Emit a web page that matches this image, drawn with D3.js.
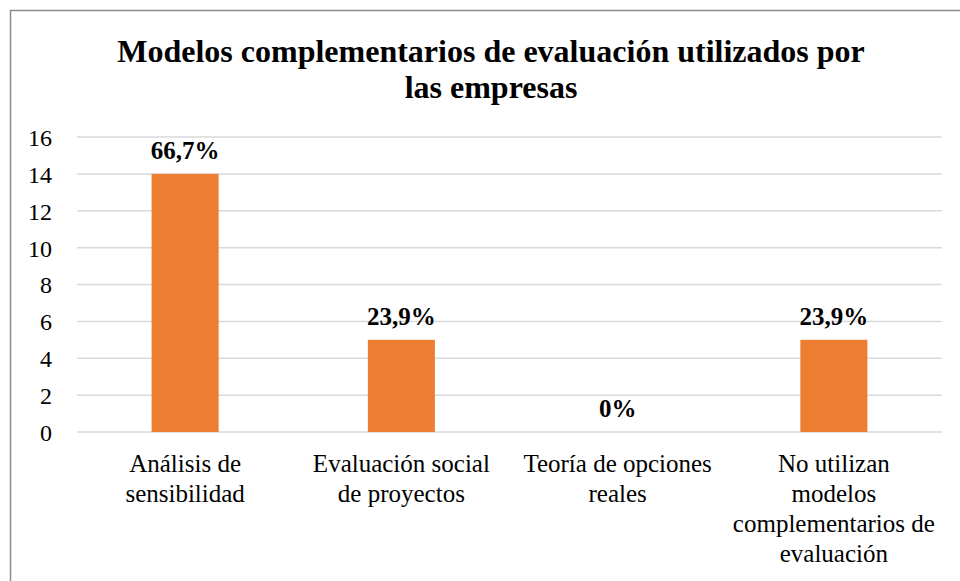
<!DOCTYPE html>
<html>
<head>
<meta charset="utf-8">
<script src="https://cdn.jsdelivr.net/npm/d3@7"></script>
<style>
  body { margin: 0; background: #fff; }
</style>
</head>
<body>
<div id="chart"></div>
<script>
// Chart data
var categories = [
    ["Análisis de", "sensibilidad"],
    ["Evaluación social", "de proyectos"],
    ["Teoría de opciones", "reales"],
    ["No utilizan", "modelos", "complementarios de", "evaluación"]
];
var values = [14, 5, 0, 5];
var labels = ["66,7%", "23,9%", "0%", "23,9%"];
var yTicks = [0, 2, 4, 6, 8, 10, 12, 14, 16];
var titleLines = ["Modelos complementarios de evaluación utilizados por", "las empresas"];

var serif = "'Liberation Serif', Tinos, 'Times New Roman', Times, 'DejaVu Serif', serif";

var width = 960, height = 581;
var margin = { top: 137, left: 77, right: 18, bottom: 149 };

var svg = d3.select("#chart")
    .append("svg")
    .attr("width", width)
    .attr("height", height)
    .attr("font-family", serif);

// Outer border of the chart area
svg.append("rect")
    .attr("x", 10.5)
    .attr("y", 10.5)
    .attr("width", width + 20)
    .attr("height", height + 20)
    .attr("fill", "none")
    .attr("stroke", "#8c8c8c")
    .attr("stroke-width", 1.5);

// Title
svg.append("text")
    .attr("x", 491)
    .attr("y", 62)
    .attr("text-anchor", "middle")
    .attr("font-family", serif)
    .attr("font-size", 32)
    .attr("font-weight", "bold")
    .selectAll("tspan")
    .data(titleLines)
    .enter().append("tspan")
    .attr("x", 491)
    .attr("dy", function(d, i) { return i == 0 ? 0 : 36; })
    .text(function(d) { return d; });

var x = d3.scaleBand()
    .domain(d3.range(categories.length))
    .range([margin.left, width - margin.right])
    .paddingInner(0.69)
    .paddingOuter(0.345);

var y = d3.scaleLinear()
    .domain([0, 16])
    .range([height - margin.bottom, margin.top]);

// Gridlines
svg.append("g")
    .selectAll("line")
    .data(yTicks)
    .enter().append("line")
    .attr("x1", margin.left)
    .attr("x2", width - margin.right)
    .attr("y1", function(d) { return y(d); })
    .attr("y2", function(d) { return y(d); })
    .attr("stroke", "#d9d9d9")
    .attr("stroke-width", 1.5);

// Y axis labels
var yAxis = svg.append("g")
    .attr("transform", "translate(" + (margin.left - 21) + ",0)")
    .call(d3.axisLeft(y).tickValues(yTicks).tickSize(0).tickPadding(4))
    .attr("font-family", serif)
    .attr("font-size", 24);
yAxis.select(".domain").remove();
yAxis.selectAll("text")
    .attr("fill", "#000")
    .attr("dy", "0.35em");

// Bars
svg.selectAll(".bar")
    .data(values)
    .enter().append("rect")
    .attr("class", "bar")
    .attr("x", function(d, i) { return x(i); })
    .attr("width", x.bandwidth())
    .attr("y", function(d) { return y(d); })
    .attr("height", function(d) { return y(0) - y(d); })
    .attr("fill", "#ed7d31");

// Value labels
svg.selectAll(".val")
    .data(values)
    .enter().append("text")
    .attr("class", "val")
    .attr("x", function(d, i) { return x(i) + x.bandwidth() / 2; })
    .attr("y", function(d) { return y(d) - 15; })
    .attr("text-anchor", "middle")
    .attr("font-family", serif)
    .attr("font-size", 25)
    .attr("font-weight", "bold")
    .text(function(d, i) { return labels[i]; });

// Category labels
svg.selectAll(".cat")
    .data(categories)
    .enter().append("text")
    .attr("class", "cat")
    .attr("text-anchor", "middle")
    .attr("font-family", serif)
    .attr("font-size", 25)
    .attr("y", y(0) + 40)
    .each(function(lines, i) {
        var cx = x(i) + x.bandwidth() / 2;
        d3.select(this).selectAll("tspan")
            .data(lines)
            .enter().append("tspan")
            .attr("x", cx)
            .attr("dy", function(d, j) { return j == 0 ? 0 : 30; })
            .text(function(d) { return d; });
    });
</script>
</body>
</html>
